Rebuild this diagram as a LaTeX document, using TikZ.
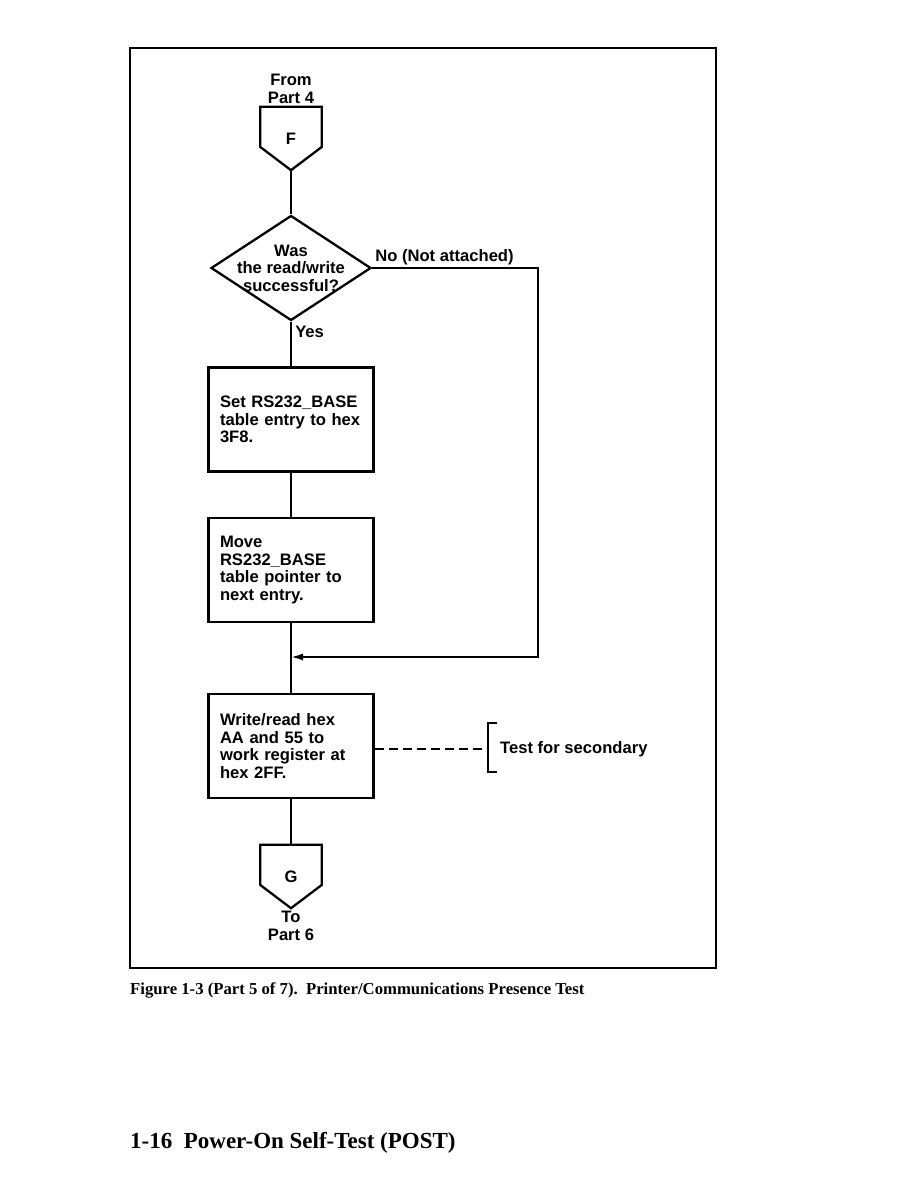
\documentclass[tikz,border=0pt]{standalone}
\usepackage{fontspec}
\setmainfont{Liberation Sans}
\newfontfamily\capserif{Liberation Serif}
\usetikzlibrary{shapes,arrows.meta,positioning,calc}

\newcommand{\offpageshape}[1]{%
  \draw[line width=2.3pt, line join=miter] (#1.north west) -- (#1.north east)
    -- ([yshift=-8.5pt]#1.east) -- (#1.south) -- ([yshift=-8.5pt]#1.west) -- cycle;}

\begin{document}
\begin{tikzpicture}[x=1pt, y=-1pt,
    every node/.style={font=\fontsize{16.6}{17.5}\selectfont\bfseries},
    procbox/.style={draw, line width=2.3pt, minimum width=165pt, minimum height=104pt,
      text width=142pt, align=left, inner sep=0pt},
    decision/.style={diamond, draw, line width=2.3pt, minimum width=160pt,
      minimum height=105pt, inner sep=0pt},
    offpage/.style={minimum width=61pt, minimum height=63pt, inner sep=0pt},
    flow/.style={line width=1.9pt}]
        \useasboundingbox (0,0) rectangle (918,1188);
        \draw[line width=2.2pt] (130,48) rectangle (716,968);

        \node[offpage] (f) at (291,138.5) {F};
        \offpageshape{f}
        \node[above=3pt of f, align=center, inner sep=0pt] (from) {From\\Part 4};

        \node[decision] (test) at (291,268) {};
        \node[align=center] (testtext) at (test.center) {Was\\the read/write\\successful?};
        \node[anchor=south west, inner sep=3pt] (nolabel) at (test.east) {No (Not attached)};

        \node[procbox] (setbase) at (291,419.5) {Set RS232\_BASE\\table entry to hex\\3F8.};
        \node[procbox] (nextentry) at (291,570) {Move\\RS232\_BASE\\table pointer to\\next entry.};
        \node[procbox] (wrtest) at (291,746) {Write/read hex\\AA and 55 to\\work register at\\hex 2FF.};

        \node[offpage] (g) at (291,876.5) {G};
        \offpageshape{g}
        \node[below=3pt of g, align=center, inner sep=0pt] (to) {To\\Part 6};

        \coordinate (merge) at (291,657);
        \coordinate (brk) at (488,749);
        \node[anchor=west, inner sep=0pt] (secondary) at ([xshift=12pt]brk) {Test for secondary};

        \draw[flow] (f.south) -- (test.north);
        \draw[flow] (test.south) -- node[right, pos=0.23]{Yes} (setbase.north);
        \draw[flow] (setbase) -- (nextentry);
        \draw[flow] (nextentry) -- (wrtest);
        \draw[flow] (wrtest) -- (g.north);
        \draw[flow, -{Latex[length=12pt,width=7pt]}] (test.east) -- ++(166,0) |- (merge);
        \draw[flow, dash pattern=on 9pt off 5pt] (wrtest.east |- brk) -- (brk);
        \draw[flow] ([xshift=9pt,yshift=26pt]brk) -- ([yshift=26pt]brk) -- ([yshift=-23pt]brk) -- ([xshift=9pt,yshift=-23pt]brk);

        \node[anchor=base west, inner sep=0pt, font=\capserif\bfseries\fontsize{16.7}{19}\selectfont] (caption) at (130,994)
          {Figure 1-3 (Part 5 of 7).\ \ Printer/Communications Presence Test};
        \node[anchor=base west, inner sep=0pt, font=\capserif\bfseries\fontsize{23}{27}\selectfont] (footer) at (130,1148)
          {1-16\ \ Power-On Self-Test (POST)};
\end{tikzpicture}
\end{document}
